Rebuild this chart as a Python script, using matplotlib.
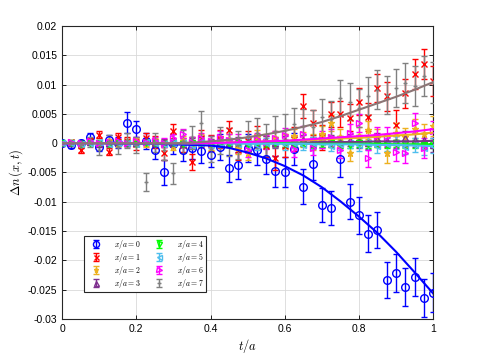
import numpy as np
import matplotlib
matplotlib.use('Agg')
import matplotlib.pyplot as plt
from matplotlib.ticker import FuncFormatter

plt.rcParams['font.family'] = ['Liberation Sans', 'DejaVu Sans']
plt.rcParams['mathtext.fontset'] = 'cm'
plt.rcParams['axes.unicode_minus'] = False

# time axis t/a
t = [0.0, 0.025, 0.05, 0.075, 0.1, 0.125, 0.15, 0.175, 0.2, 0.225,
     0.25, 0.275, 0.3, 0.325, 0.35, 0.375, 0.4, 0.425, 0.45, 0.475,
     0.5, 0.525, 0.55, 0.575, 0.6, 0.625, 0.65, 0.675, 0.7, 0.725,
     0.75, 0.775, 0.8, 0.825, 0.85, 0.875, 0.9, 0.925, 0.95, 0.975, 1.0]

# dn(x,t) for x/a = 0..7
dn0 = [0, -0.0003, 0.0000, 0.0011, -0.0006, 0.0005, 0.0001, 0.0035, 0.0024, 0.0004,
       -0.0012, -0.0050, -0.0001, -0.0012, -0.0008, -0.0013, -0.0020, -0.0006, -0.0043, -0.0038,
       -0.0008, -0.0012, -0.0027, -0.0048, -0.0049, -0.0010, -0.0074, -0.0035, -0.0105, -0.0110,
       -0.0027, -0.0100, -0.0123, -0.0154, -0.0148, -0.0233, -0.0221, -0.0245, -0.0228, -0.0264, -0.0255]
dn1 = [0, 0.0002, -0.0012, 0.0004, 0.0014, -0.0015, 0.0010, 0.0003, -0.0002, 0.0008,
       0.0002, -0.0017, 0.0021, -0.0003, -0.0032, 0.0008, 0.0000, 0.0007, 0.0022, -0.0012,
       0.0004, 0.0011, -0.0005, -0.0026, -0.0004, 0.0007, 0.0063, 0.0035, 0.0010, 0.0049,
       0.0050, 0.0043, 0.0071, 0.0045, 0.0094, 0.0080, 0.0031, 0.0085, 0.0118, 0.0135, 0.0106]
dn2 = [0, 0.0001, -0.0001, 0.0002, 0.0000, 0.0003, -0.0002, 0.0001, 0.0003, -0.0001,
       0.0002, 0.0000, -0.0004, 0.0004, 0.0001, 0.0006, -0.0002, 0.0003, 0.0005, -0.0008,
       -0.0017, 0.0011, 0.0004, 0.0009, 0.0003, 0.0012, 0.0006, 0.0002, 0.0015, 0.0034,
       0.0010, -0.0016, 0.0012, 0.0022, 0.0009, -0.0017, 0.0018, 0.0010, 0.0025, 0.0016, 0.0030]
dn3 = [0, 0.0001, 0.0000, 0.0002, -0.0001, 0.0001, 0.0002, 0.0000, 0.0001, 0.0003,
       0.0000, 0.0002, 0.0001, -0.0001, 0.0002, 0.0003, 0.0000, 0.0002, 0.0001, 0.0003,
       0.0002, 0.0000, 0.0004, 0.0001, 0.0003, 0.0002, 0.0005, 0.0001, 0.0003, 0.0004,
       0.0002, 0.0006, 0.0003, 0.0001, 0.0007, 0.0004, 0.0002, 0.0008, 0.0005, 0.0006, -0.0003]
dn4 = [0, 0.0000, -0.0001, 0.0001, 0.0000, -0.0001, 0.0001, 0.0000, -0.0002, 0.0001,
       0.0000, -0.0001, 0.0001, -0.0002, 0.0000, 0.0001, -0.0001, 0.0000, -0.0002, 0.0001,
       -0.0001, 0.0000, -0.0002, 0.0001, -0.0001, -0.0002, 0.0000, -0.0003, -0.0001, 0.0000,
       -0.0002, -0.0003, 0.0000, -0.0002, -0.0001, -0.0003, 0.0000, -0.0002, -0.0001, -0.0003, -0.0001]
dn5 = [0, 0.0001, -0.0001, 0.0000, 0.0002, -0.0002, 0.0001, 0.0000, -0.0001, 0.0002,
       0.0000, -0.0002, 0.0001, 0.0000, -0.0003, 0.0002, -0.0001, 0.0000, 0.0002, -0.0002,
       0.0001, -0.0003, 0.0000, 0.0002, -0.0002, 0.0001, -0.0003, 0.0000, 0.0002, -0.0004,
       -0.0001, 0.0001, -0.0003, 0.0000, -0.0005, -0.0002, 0.0001, -0.0006, -0.0003, -0.0009, -0.0004]
dn6 = [0, 0.0002, 0.0001, 0.0003, 0.0001, 0.0002, 0.0003, 0.0001, 0.0004, 0.0002,
       0.0003, 0.0001, 0.0008, 0.0016, 0.0002, 0.0008, 0.0003, 0.0011, 0.0006, 0.0004,
       -0.0012, 0.0007, 0.0002, 0.0009, 0.0014, -0.0010, 0.0016, -0.0008, 0.0006, 0.0010,
       -0.0012, 0.0017, 0.0034, -0.0026, 0.0012, 0.0011, -0.0015, -0.0017, 0.0034, -0.0008, 0.0020]
dn7 = [0, 0.0001, -0.0003, 0.0002, -0.0011, 0.0004, -0.0006, 0.0005, -0.0003, -0.0066,
       0.0001, -0.0011, -0.0051, 0.0003, 0.0010, 0.0034, -0.0010, 0.0005, 0.0002, -0.0003,
       0.0012, 0.0017, 0.0005, 0.0020, 0.0022, 0.0032, 0.0030, 0.0028, 0.0045, 0.0042,
       0.0077, 0.0071, 0.0060, 0.0080, 0.0091, 0.0082, 0.0094, 0.0102, 0.0098, 0.0115, 0.0104]

# error bars (half-widths)
err0 = [0.0003, 0.0005, 0.0006, 0.0007, 0.0008, 0.0009, 0.0010, 0.0018, 0.0014, 0.0014,
        0.0015, 0.0022, 0.0017, 0.0018, 0.0019, 0.0020, 0.0021, 0.0022, 0.0023, 0.0023,
        0.0024, 0.0025, 0.0025, 0.0026, 0.0026, 0.0027, 0.0030, 0.0028, 0.0029, 0.0029,
        0.0030, 0.0030, 0.0031, 0.0031, 0.0031, 0.0031, 0.0032, 0.0032, 0.0033, 0.0033, 0.0033]
err1 = [0.0002, 0.0003, 0.0004, 0.0005, 0.0006, 0.0006, 0.0007, 0.0008, 0.0009, 0.0010,
        0.0010, 0.0011, 0.0012, 0.0012, 0.0013, 0.0014, 0.0014, 0.0015, 0.0016, 0.0016,
        0.0017, 0.0018, 0.0018, 0.0019, 0.0019, 0.0020, 0.0020, 0.0021, 0.0021, 0.0022,
        0.0022, 0.0023, 0.0023, 0.0024, 0.0024, 0.0025, 0.0025, 0.0025, 0.0026, 0.0026, 0.0026]
err2 = [0.0002, 0.0002, 0.0003, 0.0003, 0.0004, 0.0004, 0.0005, 0.0005, 0.0006, 0.0006,
        0.0007, 0.0007, 0.0008, 0.0008, 0.0009, 0.0009, 0.0009, 0.0010, 0.0010, 0.0011,
        0.0011, 0.0011, 0.0012, 0.0012, 0.0012, 0.0013, 0.0013, 0.0013, 0.0014, 0.0014,
        0.0014, 0.0015, 0.0015, 0.0015, 0.0015, 0.0016, 0.0016, 0.0016, 0.0016, 0.0017, 0.0017]
err3 = [0.0001, 0.0002, 0.0002, 0.0003, 0.0003, 0.0003, 0.0004, 0.0004, 0.0004, 0.0005,
        0.0005, 0.0005, 0.0006, 0.0006, 0.0006, 0.0007, 0.0007, 0.0007, 0.0007, 0.0008,
        0.0008, 0.0008, 0.0008, 0.0009, 0.0009, 0.0009, 0.0009, 0.0010, 0.0010, 0.0010,
        0.0010, 0.0010, 0.0011, 0.0011, 0.0011, 0.0011, 0.0011, 0.0012, 0.0012, 0.0012, 0.0012]
err4 = [0.0001, 0.0001, 0.0001, 0.0002, 0.0002, 0.0002, 0.0002, 0.0002, 0.0003, 0.0003,
        0.0003, 0.0003, 0.0003, 0.0003, 0.0004, 0.0004, 0.0004, 0.0004, 0.0004, 0.0004,
        0.0004, 0.0005, 0.0005, 0.0005, 0.0005, 0.0005, 0.0005, 0.0005, 0.0005, 0.0006,
        0.0006, 0.0006, 0.0006, 0.0006, 0.0006, 0.0006, 0.0006, 0.0006, 0.0007, 0.0007, 0.0007]
err5 = [0.0001, 0.0002, 0.0002, 0.0003, 0.0003, 0.0003, 0.0004, 0.0004, 0.0004, 0.0005,
        0.0005, 0.0005, 0.0006, 0.0006, 0.0006, 0.0007, 0.0007, 0.0007, 0.0007, 0.0008,
        0.0008, 0.0008, 0.0008, 0.0009, 0.0009, 0.0009, 0.0009, 0.0010, 0.0010, 0.0010,
        0.0010, 0.0010, 0.0011, 0.0011, 0.0011, 0.0011, 0.0011, 0.0012, 0.0012, 0.0012, 0.0012]
err6 = [0.0002, 0.0002, 0.0003, 0.0003, 0.0004, 0.0004, 0.0005, 0.0005, 0.0006, 0.0006,
        0.0007, 0.0007, 0.0008, 0.0008, 0.0009, 0.0009, 0.0010, 0.0010, 0.0010, 0.0011,
        0.0011, 0.0011, 0.0012, 0.0012, 0.0012, 0.0013, 0.0013, 0.0013, 0.0014, 0.0014,
        0.0014, 0.0015, 0.0015, 0.0015, 0.0016, 0.0016, 0.0016, 0.0016, 0.0017, 0.0017, 0.0017]
err7 = [0.0003, 0.0005, 0.0006, 0.0008, 0.0009, 0.0010, 0.0012, 0.0013, 0.0014, 0.0015,
        0.0016, 0.0017, 0.0018, 0.0019, 0.0020, 0.0021, 0.0022, 0.0023, 0.0024, 0.0024,
        0.0025, 0.0026, 0.0027, 0.0027, 0.0028, 0.0028, 0.0029, 0.0029, 0.0030, 0.0030,
        0.0031, 0.0031, 0.0032, 0.0032, 0.0033, 0.0033, 0.0033, 0.0034, 0.0034, 0.0034, 0.0035]

# fitted curves at t = 0, 0.05, ..., 1
tfit = [0.0, 0.05, 0.1, 0.15, 0.2, 0.25, 0.3, 0.35, 0.4, 0.45, 0.5,
        0.55, 0.6, 0.65, 0.7, 0.75, 0.8, 0.85, 0.9, 0.95, 1.0]
fit0 = [0, 0, 0, -0.0001, -0.0001, -0.0001, -0.0002, -0.0003, -0.0004, -0.0008, -0.0016,
        -0.0026, -0.0039, -0.0055, -0.0075, -0.0099, -0.0125, -0.0153, -0.0185, -0.0220, -0.0256]
fit2 = [0, 0, 0, 0, 0, 0, 0, 0, 0.0001, 0.0001, 0.0002,
        0.0003, 0.0004, 0.0005, 0.0006, 0.0008, 0.0009, 0.0011, 0.0013, 0.0015, 0.0018]
fit3 = [0, 0, 0, 0, 0, 0, 0, 0, 0, 0, 0.0001,
        0.0001, 0.0001, 0.0001, 0.0002, 0.0002, 0.0002, 0.0003, 0.0003, 0.0003, 0.0004]
fit4 = [0, 0, 0, 0, 0, 0, 0, 0, 0, 0, 0,
        0, 0, -0.0001, -0.0001, -0.0001, -0.0001, -0.0001, -0.0002, -0.0002, -0.0002]
fit5 = [0, 0, 0, 0, 0, 0, 0, 0, 0, 0, -0.0001,
        -0.0001, -0.0001, -0.0001, -0.0002, -0.0002, -0.0002, -0.0003, -0.0003, -0.0004, -0.0005]
fit6 = [0, 0, 0, 0, 0, 0, 0, 0, 0, 0.0001, 0.0002,
        0.0003, 0.0004, 0.0006, 0.0008, 0.0010, 0.0012, 0.0014, 0.0017, 0.0020, 0.0024]
fit7 = [0, 0, 0, 0, 0, 0, 0, 0.0001, 0.0003, 0.0006, 0.0010,
        0.0015, 0.0021, 0.0028, 0.0036, 0.0046, 0.0057, 0.0068, 0.0079, 0.0091, 0.0104]

series = [dn0, dn1, dn2, dn3, dn4, dn5, dn6, dn7]
errors = [err0, err1, err2, err3, err4, err5, err6, err7]
fits = [fit0, None, fit2, fit3, fit4, fit5, fit6, fit7]
labels = [r'$x/a=%d$' % i for i in range(8)]
colors = ['#0000ff', '#ff0000', '#edb120', '#7e2f8e', '#00ff00', '#4dbeee', '#ff00ff', '#808080']
line_colors = ['#0000ff', None, '#edb120', '#7e2f8e', '#00ff00', '#4dbeee', '#ff00ff', '#8c7575']
markers = ['o', 'x', '*', '^', 'v', '<', '>', '+']
msizes = [5.5, 4.5, 4.5, 4.5, 4.5, 4.5, 4.5, 3.0]

fig = plt.figure(figsize=(4.78, 3.59), dpi=100)
ax = fig.add_axes([0.130, 0.111, 0.776, 0.817])

for i in range(8):
    mfc = 'none' if markers[i] in ('o', '^', 'v', '<', '>') else colors[i]
    ax.errorbar(t, series[i], yerr=errors[i], fmt=markers[i], color=colors[i],
                mfc=mfc, ms=msizes[i], mew=1.0, elinewidth=1.0,
                capsize=2.5, capthick=1.0, label=labels[i], zorder=3)

for i in range(8):
    if fits[i] is None:
        continue
    ax.plot(tfit, fits[i], '-', color=line_colors[i], lw=1.5, zorder=4)

ax.set_xlim(0, 1)
ax.set_ylim(-0.03, 0.02)
ax.set_xticks([0, 0.2, 0.4, 0.6, 0.8, 1])
ax.set_yticks(np.arange(-0.03, 0.0201, 0.005))
fmt = FuncFormatter(lambda v, p: '%g' % round(v, 4))
ax.xaxis.set_major_formatter(fmt)
ax.yaxis.set_major_formatter(fmt)
ax.tick_params(direction='in', top=True, right=True, labelsize=7.5, length=3, width=0.6)
ax.grid(True, color='#d9d9d9', lw=0.6)
ax.set_axisbelow(True)
for s in ax.spines.values():
    s.set_linewidth(0.8)
    s.set_color('#262626')

ax.set_xlabel(r'$t/a$', fontsize=9, labelpad=2)
ax.set_ylabel(r'$\Delta n\,(x,t)$', fontsize=9, labelpad=2)

leg = ax.legend(ncol=2, loc='lower left', bbox_to_anchor=(0.059, 0.092), borderaxespad=0,
                fontsize=5.6, frameon=True, fancybox=False, edgecolor='#262626', framealpha=1,
                handlelength=2.6, handleheight=0.5, handletextpad=1.0, columnspacing=1.0,
                labelspacing=0.0, borderpad=0.3, markerscale=0.8)
leg.get_frame().set_linewidth(0.8)

fig.savefig('out.png', dpi=100)
